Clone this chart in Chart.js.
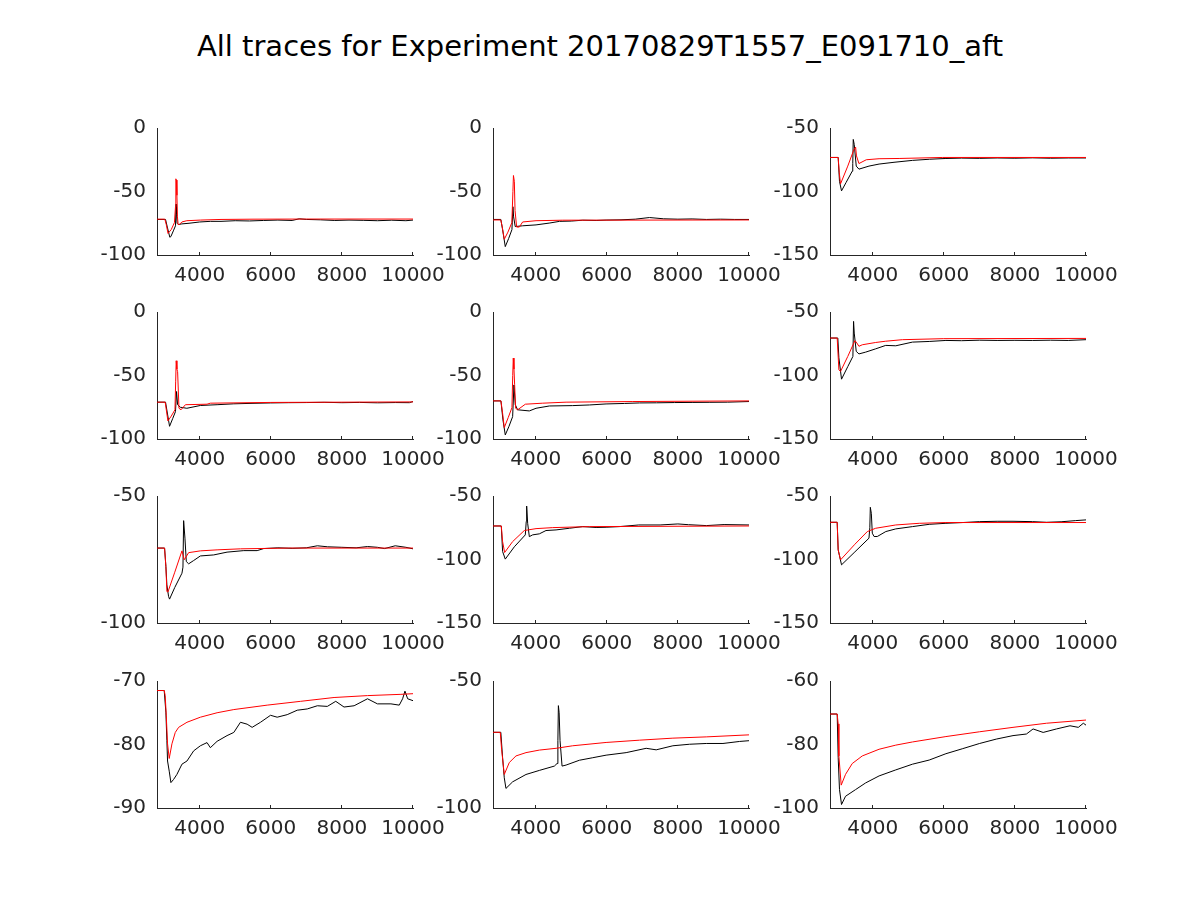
<!DOCTYPE html>
<html>
<head>
<meta charset="utf-8">
<script src="https://cdn.jsdelivr.net/npm/chart.js@4.4.1/dist/chart.umd.min.js"></script>
<style>
  body { margin: 0; background: #fff; }
  #wrap { position: relative; width: 1200px; height: 900px; overflow: hidden; }
  #title { position: absolute; left: 0; width: 1200px; top: 29px; text-align: center; font-family: "DejaVu Sans"; font-size: 29px; line-height: 34px; color: #000; }
  canvas { position: absolute; }
</style>
</head>
<body>
<div id="wrap">
  <div id="title">All traces for Experiment 20170829T1557_E091710_aft</div>
</div>
<script>
// x axis shared by every panel
const xMin = 2800, xMax = 10000;
const xTicks = [4000, 6000, 8000, 10000];

// y axis per panel (row by row)
const yMins = [-100, -100, -150, -100, -100, -150, -100, -150, -150, -90, -100, -100];
const yMaxs = [0, 0, -50, 0, 0, -50, -50, -50, -50, -70, -50, -60];
const yTicks = [
  [-100, -50, 0], [-100, -50, 0], [-150, -100, -50],
  [-100, -50, 0], [-100, -50, 0], [-150, -100, -50],
  [-100, -50], [-150, -100, -50], [-150, -100, -50],
  [-90, -80, -70], [-100, -50], [-100, -80, -60]
];

// panel 1
const red1X = [2800, 3020, 3060, 3110, 3200, 3290, 3320, 3330, 3345, 3360, 3375, 3395, 3430, 3500, 3640, 4020, 4600, 5500, 7000, 10000];
const red1Y = [-71.8, -71.8, -76, -83, -80, -74.5, -62, -40, -41, -53, -70, -76, -76, -74, -73, -72.5, -72, -71.8, -71.7, -71.7];
const black1X = [2800, 3040, 3090, 3160, 3190, 3260, 3320, 3335, 3350, 3365, 3400, 3500, 3700, 4000, 4300, 4600, 5000, 5400, 5800, 6200, 6600, 6800, 7000, 7400, 7800, 8200, 8600, 9000, 9400, 9800, 10000];
const black1Y = [-72, -72, -78, -86, -85.5, -81, -77, -60, -68, -75, -76, -75.5, -75, -74, -73.5, -73.5, -73, -73.2, -72.8, -72.5, -72.8, -71.5, -72, -72.3, -72.8, -72.5, -72.7, -73, -72.6, -73, -72.5];

// panel 2
const red2X = [2800, 3020, 3060, 3117, 3220, 3330, 3360, 3375, 3400, 3420, 3465, 3540, 3634, 4010, 4760, 10000];
const red2Y = [-72.4, -72.4, -78, -87.6, -82, -74.5, -50, -37.4, -42, -65, -78, -78, -74, -73, -72.6, -72.4];
const black2X = [2800, 3020, 3070, 3145, 3240, 3333, 3360, 3380, 3425, 3634, 4010, 4400, 4670, 5000, 5325, 5700, 5980, 6400, 6800, 7200, 7600, 8000, 8400, 8800, 9200, 9600, 10000];
const black2Y = [-72, -72, -80, -93.4, -87, -80, -62, -70, -77.6, -77, -76.3, -74.8, -73.5, -73.3, -72.6, -72.8, -72.5, -72.3, -71.8, -70.5, -71.5, -71.8, -71.6, -72, -71.8, -72, -72];

// panel 3
const red3X = [2800, 3030, 3060, 3096, 3300, 3472, 3520, 3545, 3614, 3820, 4180, 4744, 5970, 10000];
const red3Y = [-73.2, -73.2, -85, -94, -80, -67, -65, -72, -78, -75, -74.2, -74, -73.2, -73.2];
const black3X = [2800, 3030, 3067, 3124, 3250, 3425, 3440, 3454, 3482, 3538, 3614, 3896, 4180, 4600, 5120, 5600, 6060, 6500, 7000, 7500, 8000, 8500, 9000, 9500, 10000];
const black3Y = [-73.2, -73.2, -92, -99.5, -93, -84, -78, -59, -63, -80, -82.4, -80, -78.4, -77, -75.5, -74.6, -74, -73.7, -73.9, -73.6, -73.8, -73.5, -73.8, -73.6, -73.6];

// panel 4
const red4X = [2800, 3030, 3107, 3200, 3305, 3325, 3340, 3360, 3380, 3418, 3475, 3600, 4207, 4300, 6000, 10000];
const red4Y = [-71, -71, -85.8, -82, -77, -55, -38.4, -45, -47, -75.8, -77, -73, -72.6, -71.8, -71.2, -70.8];
const black4X = [2800, 3040, 3153, 3240, 3320, 3350, 3380, 3455, 3640, 4020, 4490, 4960, 5500, 6000, 6500, 7000, 7500, 8000, 8500, 9000, 9500, 9900, 10000];
const black4Y = [-71, -71, -90, -84, -78.4, -62.6, -73, -75, -75.8, -73.6, -73, -72.3, -71.9, -71.6, -71.4, -71.3, -71.1, -71.4, -71.2, -71.5, -71.3, -71.4, -70.5];

// panel 5
const red5X = [2800, 3023, 3070, 3117, 3230, 3333, 3355, 3370, 3390, 3408, 3436, 3493, 3710, 4200, 4855, 6733, 10000];
const red5Y = [-70, -70, -79.7, -91, -83, -75.3, -50, -36.3, -45, -57, -75.8, -77, -72.6, -71.8, -71, -70.5, -70];
const black5X = [2800, 3023, 3080, 3145, 3250, 3352, 3390, 3427, 3493, 3822, 4010, 4385, 5042, 5512, 5980, 6500, 6920, 7400, 7900, 8400, 8900, 9400, 10000];
const black5Y = [-70, -70, -85, -96.8, -90, -82.4, -57.4, -73, -77, -77.9, -75.8, -74, -73.7, -73.2, -72.4, -72, -71.6, -71.5, -71.3, -71.2, -71.1, -71, -70.5];

// panel 6
const red6X = [2800, 3002, 3050, 3096, 3300, 3500, 3538, 3614, 3708, 4085, 4367, 4838, 6000, 10000];
const red6Y = [-70.5, -70.5, -95.5, -96.8, -85, -72.6, -73.7, -77, -75.8, -74, -73, -71.8, -71, -70.8];
const black6X = [2800, 3020, 3050, 3124, 3300, 3444, 3463, 3482, 3538, 3614, 3802, 4085, 4367, 4650, 5120, 5590, 6060, 6500, 7000, 7500, 8000, 8500, 9000, 9500, 10000];
const black6Y = [-70.5, -70.5, -86, -102.9, -93, -85, -57.4, -66.6, -81, -83, -81.6, -79, -76.3, -76.6, -73.7, -73.2, -72.4, -72.6, -72.2, -72.4, -72.3, -72.4, -72.2, -72.4, -71.8];

// panel 7
const red7X = [2800, 3013, 3050, 3078, 3107, 3300, 3502, 3567, 3690, 4020, 4490, 5147, 6500, 10000];
const red7Y = [-70.5, -70.5, -77.7, -87.6, -87.8, -80, -71.6, -75.1, -72.3, -71.6, -71.2, -70.8, -70.5, -70.5];
const black7X = [2800, 3013, 3050, 3078, 3125, 3153, 3300, 3502, 3530, 3549, 3586, 3624, 3690, 3831, 4020, 4395, 4770, 5241, 5617, 5800, 6200, 6600, 7000, 7310, 7600, 8000, 8400, 8720, 9000, 9200, 9500, 9800, 10000];
const black7Y = [-70.5, -70.5, -77.7, -85, -89.5, -90.6, -86, -80.4, -78, -59.7, -66.6, -75.8, -76.7, -75.4, -73.6, -73.2, -72.1, -71.5, -71.5, -70.7, -70.4, -70.6, -70.4, -69.6, -70, -70.2, -70.4, -69.9, -70.2, -70.7, -69.6, -70.2, -70.8];

// panel 8
const red8X = [2800, 3033, 3070, 3127, 3352, 3680, 4010, 4480, 5512, 10000];
const red8Y = [-73.6, -73.6, -85.9, -94.5, -85.9, -77.2, -75.7, -74.9, -74.1, -73.6];
const black8X = [2800, 3033, 3070, 3145, 3400, 3709, 3735, 3747, 3775, 3822, 3915, 4103, 4290, 4573, 4948, 5324, 5700, 5981, 6357, 6900, 7500, 8000, 8300, 8800, 9300, 10000];
const black8Y = [-73.6, -73.6, -93.7, -99.7, -90, -80.6, -70, -57.9, -71.5, -82, -80.6, -79.8, -77.2, -76.7, -75.4, -74.1, -74.8, -74.6, -74.1, -72.8, -72.8, -72, -72.6, -73.3, -72.5, -72.8];

// panel 9
const red9X = [2800, 3002, 3030, 3096, 3500, 3850, 4085, 4650, 5310, 6060, 10000];
const red9Y = [-70.7, -70.7, -92.4, -100.3, -88, -78, -75.4, -72.8, -71.5, -70.9, -70.9];
const black9X = [2800, 3002, 3030, 3124, 3500, 3896, 3920, 3934, 3962, 3990, 4040, 4130, 4370, 4650, 5120, 5590, 6060, 6534, 7000, 7500, 7947, 8500, 8890, 9300, 9700, 10000];
const black9Y = [-70.7, -70.7, -92.4, -104.2, -94, -83.2, -75, -58.9, -63.6, -79.3, -81.9, -81.9, -78, -75.9, -74.1, -72.3, -71.5, -70.9, -70.2, -69.9, -69.9, -70.2, -70.7, -70.3, -69.4, -68.8];

// panel 10
const red10X = [2800, 3003, 3031, 3060, 3097, 3144, 3220, 3314, 3408, 3643, 4020, 4490, 4960, 5899, 6840, 7780, 8720, 9660, 10000];
const red10Y = [-71.5, -71.5, -72.3, -75.4, -79.9, -82.2, -79.9, -78.1, -77.3, -76.5, -75.7, -75, -74.5, -73.8, -73.2, -72.6, -72.3, -72.1, -72];
const black10X = [2800, 3003, 3050, 3078, 3097, 3144, 3191, 3267, 3361, 3502, 3643, 3831, 4020, 4207, 4301, 4490, 4770, 4960, 5147, 5335, 5476, 5711, 5993, 6180, 6462, 6744, 7026, 7310, 7590, 7827, 8060, 8344, 8720, 9000, 9380, 9614, 9708, 9774, 9850, 10000];
const black10Y = [-71.5, -71.5, -74.9, -79.4, -82.6, -84.2, -86, -85.5, -84.7, -83.1, -82.6, -81, -80.2, -79.7, -80.5, -79.5, -78.6, -78.1, -76.5, -76.8, -77.3, -76.5, -75.4, -75.7, -75.3, -74.6, -74.4, -73.9, -74, -73.2, -74.1, -73.9, -72.8, -73.6, -73.6, -73.8, -72.8, -71.6, -72.8, -73.1];

// panel 11
const red11X = [2800, 3004, 3042, 3117, 3258, 3446, 3728, 4103, 4573, 5042, 5981, 6920, 7859, 8798, 10000];
const red11Y = [-70.2, -70.2, -76.9, -86.8, -82.1, -79.5, -78.2, -77.2, -76.5, -75.5, -74.2, -73.3, -72.5, -72, -71.2];
const black11X = [2800, 3020, 3070, 3117, 3164, 3352, 3728, 4103, 4526, 4600, 4625, 4639, 4660, 4686, 4742, 4855, 5230, 5606, 5981, 6545, 7108, 7390, 7859, 8329, 8798, 9268, 9737, 10000];
const black11Y = [-70.2, -70.2, -80.2, -88.1, -92.3, -89.7, -86.8, -85.2, -83.5, -82.5, -73.5, -59.7, -62.5, -73.5, -83.5, -83.1, -81.2, -80.2, -79.2, -78.2, -76.5, -77.1, -75.5, -74.9, -74.6, -74.6, -73.8, -73.5];

// panel 12
const red12X = [2800, 3002, 3030, 3050, 3115, 3237, 3425, 3708, 4180, 4650, 5120, 6060, 7000, 7947, 8890, 10000];
const red12Y = [-70.4, -70.4, -73.5, -83.6, -92.8, -89.4, -86, -83.6, -81.5, -80.2, -79.2, -77.5, -76, -74.6, -73.3, -72.3];
const black12X = [2800, 3002, 3030, 3067, 3124, 3237, 3520, 3802, 4180, 4650, 5120, 5590, 6060, 6534, 7000, 7476, 7947, 8324, 8512, 8795, 9170, 9550, 9784, 9925, 10000];
const black12Y = [-70.4, -70.4, -84.1, -94.2, -98.9, -96.3, -94.2, -92.1, -89.9, -88, -86.2, -84.9, -82.9, -81.3, -79.7, -78.3, -77.2, -76.7, -75.1, -76.2, -75.1, -74.1, -74.6, -73.3, -73.9];

const redX = [red1X, red2X, red3X, red4X, red5X, red6X, red7X, red8X, red9X, red10X, red11X, red12X];
const redY = [red1Y, red2Y, red3Y, red4Y, red5Y, red6Y, red7Y, red8Y, red9Y, red10Y, red11Y, red12Y];
const blackX = [black1X, black2X, black3X, black4X, black5X, black6X, black7X, black8X, black9X, black10X, black11X, black12X];
const blackY = [black1Y, black2Y, black3Y, black4Y, black5Y, black6Y, black7Y, black8Y, black9Y, black10Y, black11Y, black12Y];

// panel placement (plot area, px)
const colLefts = [157, 493, 830];
const rowTops = [128, 312, 496, 681];
const plotW = 256, plotH = 127;
const padL = 80, padT = 20, padR = 45, padB = 45;
const axisColor = '#262626';
const tickFont = { family: 'DejaVu Sans', size: 20 };

// MATLAB style ticks point into the plot
const innerTicks = {
    id: 'innerTicks',
    afterDraw(chart) {
        const { ctx, chartArea, scales: { x } } = chart;
        ctx.save();
        ctx.strokeStyle = axisColor;
        ctx.lineWidth = 1;
        x.ticks.forEach(t => {
            const px = Math.round(x.getPixelForValue(t.value)) - 0.5;
            ctx.beginPath();
            ctx.moveTo(px, chartArea.bottom);
            ctx.lineTo(px, chartArea.bottom - 3);
            ctx.stroke();
        });
        ctx.restore();
    }
};

function toPoints(xs, ys) { return xs.map((x, i) => ({ x: x, y: ys[i] })); }

function fixAxis(scale, isX) {
    if (isX) scale.height = padB; else scale.width = padL;
    scale.paddingLeft = scale.paddingRight = scale.paddingTop = scale.paddingBottom = 0;
}

function makePanel(i) {
    const canvas = document.createElement('canvas');
    const w = plotW + padL + padR, h = plotH + padT + padB;
    canvas.width = w; canvas.height = h;
    canvas.style.left = (colLefts[i % 3] - padL) + 'px';
    canvas.style.top = (rowTops[Math.floor(i / 3)] - padT) + 'px';
    canvas.style.width = w + 'px'; canvas.style.height = h + 'px';
    document.getElementById('wrap').appendChild(canvas);

    new Chart(canvas.getContext('2d'), {
        type: 'line',
        data: {
            datasets: [
                { data: toPoints(redX[i], redY[i]), borderColor: '#ff0000', borderWidth: 1, pointRadius: 0, tension: 0 },
                { data: toPoints(blackX[i], blackY[i]), borderColor: '#000000', borderWidth: 1, pointRadius: 0, tension: 0 }
            ]
        },
        options: {
            responsive: false,
            animation: false,
            events: [],
            layout: { padding: { left: 0, top: padT, right: padR, bottom: 0 } },
            plugins: { legend: { display: false }, tooltip: { enabled: false } },
            scales: {
                x: {
                    type: 'linear', min: xMin, max: xMax,
                    afterBuildTicks: s => { s.ticks = xTicks.map(v => ({ value: v })); },
                    afterFit: s => fixAxis(s, true),
                    grid: { display: false, drawTicks: false },
                    border: { display: true, color: axisColor, width: 1 },
                    ticks: { font: tickFont, color: axisColor, padding: 9, maxRotation: 0, autoSkip: false, callback: v => String(v) }
                },
                y: {
                    type: 'linear', min: yMins[i], max: yMaxs[i],
                    afterBuildTicks: s => { s.ticks = yTicks[i].map(v => ({ value: v })); },
                    afterFit: s => fixAxis(s, false),
                    grid: { display: false, drawTicks: false },
                    border: { display: true, color: axisColor, width: 1 },
                    ticks: { font: tickFont, color: axisColor, padding: 11, autoSkip: false, callback: v => String(v) }
                }
            }
        },
        plugins: [innerTicks]
    });
}

window.onload = function() {
    for (let i = 0; i < 12; i++) makePanel(i);
};
</script>
</body>
</html>
